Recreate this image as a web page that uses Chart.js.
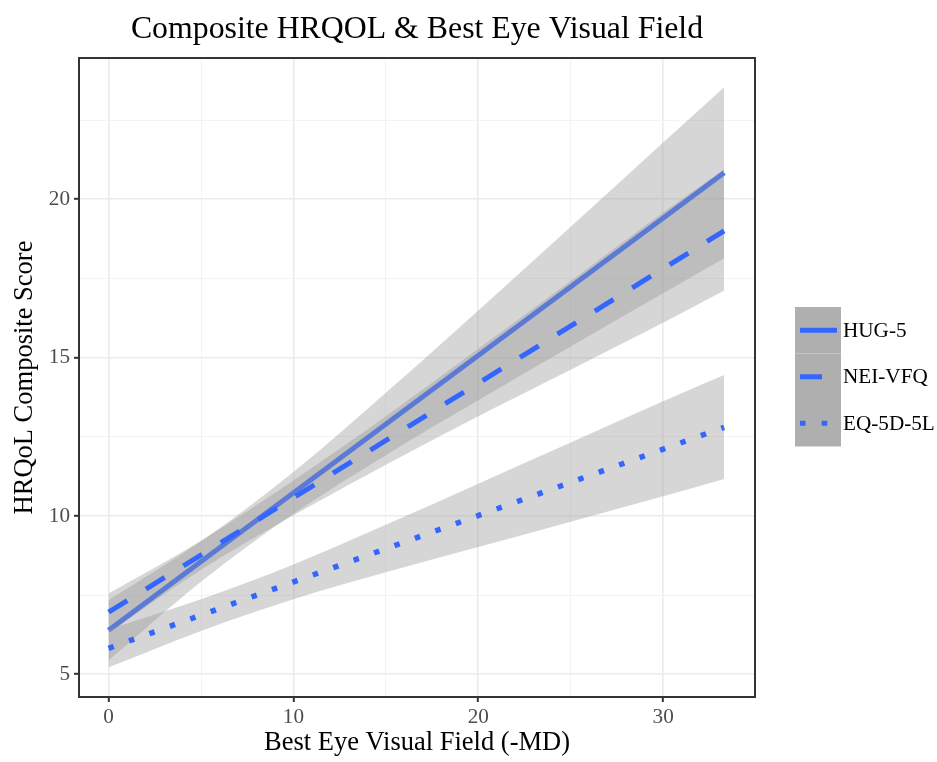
<!DOCTYPE html>
<html lang="en">
<head>
    <meta charset="UTF-8">
    <title>Composite HRQOL & Best Eye Visual Field</title>
    <script src="https://cdn.jsdelivr.net/npm/chart.js"></script>
    <style>
        body { margin: 0; background: #fff; }
    </style>
</head>
<body>
    <canvas id="hrqolChart" width="937" height="762"></canvas>

    <script>
        // Instruments, in legend order
        const series = ['HUG-5', 'NEI-VFQ', 'EQ-5D-5L'];

        // Fitted lines (lm) at the ends of the visual field range
        const lineX = [0, 33.3];
        const hugFit = [6.39, 20.84];
        const neiFit = [6.96, 19.0];
        const eqFit = [5.82, 12.8];

        // 95% confidence bands, read at these -MD values
        const bandX = [0, 5, 10, 15, 20, 25, 30, 33.3];
        const hugLower = [5.44, 7.92, 10.07, 11.92, 13.65, 15.35, 17.03, 18.14];
        const hugUpper = [7.34, 9.20, 11.39, 13.89, 16.49, 19.13, 21.79, 23.54];
        const neiLower = [6.30, 8.30, 10.02, 11.62, 13.15, 14.62, 16.10, 17.12];
        const neiUpper = [7.55, 9.22, 11.12, 13.15, 15.28, 17.42, 19.58, 20.95];
        const eqLower = [5.22, 6.37, 7.37, 8.22, 9.02, 9.82, 10.62, 11.17];
        const eqUpper = [6.42, 7.37, 8.47, 9.72, 11.02, 12.32, 13.62, 14.45];

        // Axis breaks
        const xMajor = [0, 10, 20, 30];
        const xMinor = [5, 15, 25];
        const yMajor = [5, 10, 15, 20];
        const yMinor = [7.5, 12.5, 17.5, 22.5];

        const SERIF = '"Liberation Serif", "Times New Roman", serif';
        const LINE_BLUE = '#3366ff';
        const BAND_GREY = 'rgba(153, 153, 153, 0.4)';
        const dashFor = { 'HUG-5': [], 'NEI-VFQ': [22, 22], 'EQ-5D-5L': [5.5, 16.2] };

        function pts(xs, ys) {
            return xs.map((x, i) => ({ x: x, y: ys[i] }));
        }

        const groups = [
            { name: series[0], fit: hugFit, lo: hugLower, hi: hugUpper },
            { name: series[1], fit: neiFit, lo: neiLower, hi: neiUpper },
            { name: series[2], fit: eqFit, lo: eqLower, hi: eqUpper }
        ];

        // ribbon then line for each group, like geom_smooth draws them
        const datasets = [];
        let order = 100;
        groups.forEach(g => {
            datasets.push({
                label: g.name + ' upper',
                data: pts(bandX, g.hi),
                fill: '+1',
                backgroundColor: BAND_GREY,
                borderColor: 'rgba(0,0,0,0)',
                borderWidth: 1,
                pointRadius: 0,
                cubicInterpolationMode: 'monotone',
                order: order--
            });
            datasets.push({
                label: g.name + ' lower',
                data: pts(bandX, g.lo),
                fill: false,
                borderColor: 'rgba(0,0,0,0)',
                borderWidth: 1,
                pointRadius: 0,
                cubicInterpolationMode: 'monotone',
                order: order--
            });
            datasets.push({
                label: g.name,
                data: pts(lineX, g.fit),
                fill: false,
                borderColor: LINE_BLUE,
                borderWidth: g.name === 'EQ-5D-5L' ? 5.5 : 5,
                borderDash: dashFor[g.name],
                borderCapStyle: 'butt',
                pointRadius: 0,
                order: order--
            });
        });

        function gridStyle(major) {
            return {
                color: ctx => major.includes(ctx.tick && ctx.tick.value) ? '#ebebeb' : '#f2f2f2',
                lineWidth: ctx => major.includes(ctx.tick && ctx.tick.value) ? 1.6 : 0.9,
                drawTicks: true,
                tickLength: 5,
                tickWidth: 2,
                tickColor: ctx => major.includes(ctx.tick && ctx.tick.value) ? '#333333' : 'rgba(0,0,0,0)'
            };
        }

        // panel border, plot title and the legend on the right
        const decorations = {
            id: 'decorations',
            afterDraw(chart) {
                const { ctx, chartArea: a } = chart;
                ctx.save();
                ctx.strokeStyle = '#333333';
                ctx.lineWidth = 2;
                ctx.strokeRect(a.left, a.top, a.right - a.left, a.bottom - a.top);

                ctx.fillStyle = '#000';
                ctx.font = '31.8px ' + SERIF;
                ctx.textAlign = 'center';
                ctx.textBaseline = 'alphabetic';
                ctx.fillText('Composite HRQOL & Best Eye Visual Field', (a.left + a.right) / 2, 38);

                const keyX = 795, keyW = 46, keyH = 46.5, keyTop = 307;
                series.forEach((name, i) => {
                    const y0 = keyTop + i * keyH;
                    const cy = y0 + keyH / 2;
                    ctx.fillStyle = '#afafaf';
                    ctx.fillRect(keyX, y0, keyW, keyH);
                    ctx.strokeStyle = LINE_BLUE;
                    ctx.lineWidth = 5;
                    ctx.lineCap = 'butt';
                    ctx.setLineDash(dashFor[name]);
                    ctx.beginPath();
                    ctx.moveTo(keyX + 5, cy);
                    ctx.lineTo(keyX + 42, cy);
                    ctx.stroke();
                    ctx.setLineDash([]);
                    ctx.fillStyle = '#000';
                    ctx.font = '21.2px ' + SERIF;
                    ctx.textAlign = 'left';
                    ctx.textBaseline = 'middle';
                    ctx.fillText(name, keyX + keyW + 2, cy + 1);
                });
                ctx.restore();
            }
        };

        const ctx = document.getElementById('hrqolChart').getContext('2d');
        const chart = new Chart(ctx, {
            type: 'line',
            data: { datasets: datasets },
            options: {
                responsive: false,
                animation: false,
                layout: { padding: { left: 0, top: 58, right: 182, bottom: 0 } },
                plugins: {
                    legend: { display: false },
                    tooltip: { enabled: false },
                    title: { display: false }
                },
                scales: {
                    x: {
                        type: 'linear',
                        min: -1.6,
                        max: 34.97,
                        afterBuildTicks: axis => {
                            axis.ticks = [...xMajor, ...xMinor].sort((p, q) => p - q).map(v => ({ value: v }));
                        },
                        afterFit: axis => { axis.height = 65; },
                        ticks: {
                            autoSkip: false,
                            maxRotation: 0,
                            padding: 3,
                            color: '#4d4d4d',
                            font: { family: SERIF, size: 21.2 },
                            callback: v => xMajor.includes(v) ? String(v) : ''
                        },
                        grid: gridStyle(xMajor),
                        border: { display: false },
                        title: {
                            display: true,
                            text: 'Best Eye Visual Field (-MD)',
                            color: '#000',
                            font: { family: SERIF, size: 26.5, lineHeight: 1.2 },
                            padding: { top: 4, bottom: 3 }
                        }
                    },
                    y: {
                        type: 'linear',
                        min: 4.283,
                        max: 24.46,
                        afterBuildTicks: axis => {
                            axis.ticks = [...yMajor, ...yMinor].sort((p, q) => p - q).map(v => ({ value: v }));
                        },
                        afterFit: axis => { axis.width = 79; },
                        ticks: {
                            autoSkip: false,
                            padding: 4,
                            color: '#4d4d4d',
                            font: { family: SERIF, size: 21.2 },
                            callback: v => yMajor.includes(v) ? String(v) : ''
                        },
                        grid: gridStyle(yMajor),
                        border: { display: false },
                        title: {
                            display: true,
                            text: 'HRQoL Composite Score',
                            color: '#000',
                            font: { family: SERIF, size: 26.5, lineHeight: 1.2 },
                            padding: { top: 9, bottom: 0 }
                        }
                    }
                }
            },
            plugins: [decorations]
        });
    </script>
</body>
</html>
